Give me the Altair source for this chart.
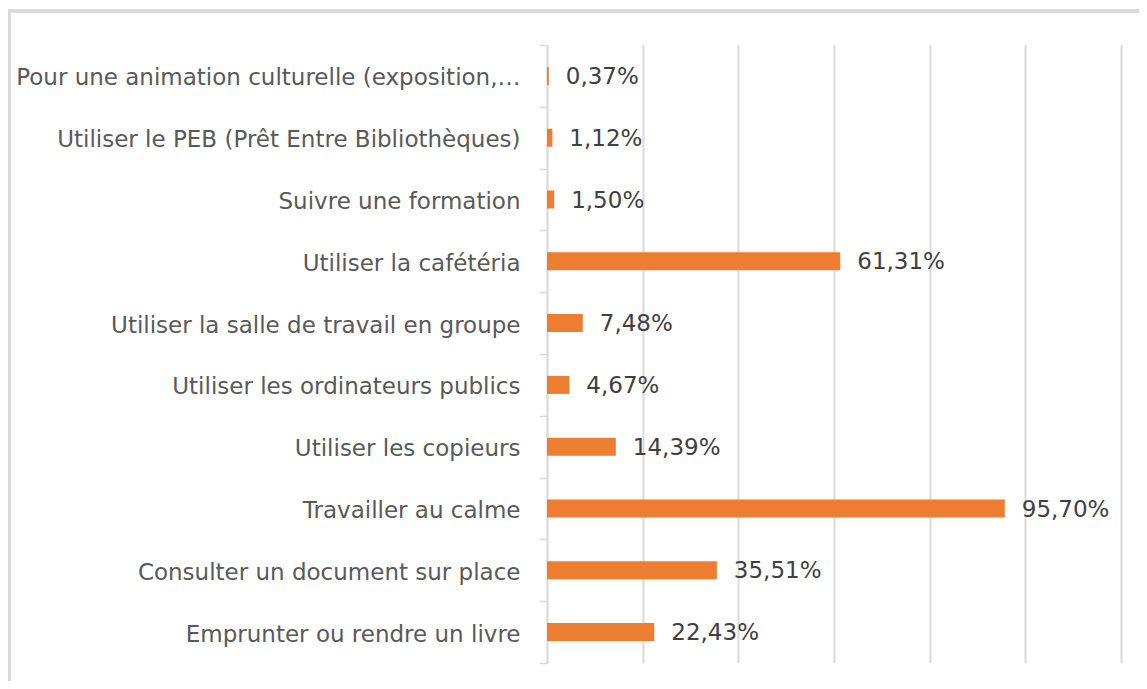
import altair as alt
import pandas as pd

categories = [
    "Pour une animation culturelle (exposition,…",
    "Utiliser le PEB (Prêt Entre Bibliothèques)",
    "Suivre une formation",
    "Utiliser la cafétéria",
    "Utiliser la salle de travail en groupe",
    "Utiliser les ordinateurs publics",
    "Utiliser les copieurs",
    "Travailler au calme",
    "Consulter un document sur place",
    "Emprunter ou rendre un livre",
]
values = [0.37, 1.12, 1.50, 61.31, 7.48, 4.67, 14.39, 95.70, 35.51, 22.43]
value_labels = ["0,37%", "1,12%", "1,50%", "61,31%", "7,48%", "4,67%",
                "14,39%", "95,70%", "35,51%", "22,43%"]
x_ticks = [0, 20, 40, 60, 80, 100, 120]

df = pd.DataFrame({"cat": categories, "val": values, "lab": value_labels})

FONT = "DejaVu Sans"
FS = 23
W, H = 574, 618

y_enc = alt.Y("cat:N", sort=categories, title=None,
              scale=alt.Scale(paddingInner=0, paddingOuter=0),
              axis=alt.Axis(labelFont=FONT, labelFontSize=FS, labelColor="#595959",
                            labelLimit=0, labelPadding=19, tickBand="extent",
                            tickSize=8, tickColor="#d9d9d9", tickWidth=1.5,
                            domainColor="#d9d9d9", domainWidth=1.5, grid=False,
                            labelBaseline="middle", labelOffset=2))
x_enc = alt.X("val:Q", title=None,
              scale=alt.Scale(domain=[0, 120], nice=False),
              axis=alt.Axis(values=x_ticks, labels=False, ticks=False, domain=False,
                            grid=True, gridColor="#d9d9d9", gridWidth=2))

bars = alt.Chart(df).mark_bar(size=18, color="#ED7D31").encode(x=x_enc, y=y_enc)

texts = alt.Chart(df).mark_text(align="left", baseline="middle", dx=17, dy=1,
                                font=FONT, fontSize=FS, color="#404040").encode(
    x=alt.X("val:Q"), y=alt.Y("cat:N", sort=categories), text="lab:N")

frame = alt.Chart(df).mark_rect(fill=None, stroke="#d9d9d9", strokeWidth=2.5,
                                clip=False).encode(
    x=alt.value(-538), x2=alt.value(W + 60),
    y=alt.value(-34), y2=alt.value(H + 60))

chart = alt.layer(frame, bars, texts).properties(
    width=W, height=H,
    background="white",
    autosize=alt.AutoSizeParams(type="none"),
    padding={"left": 539, "top": 37, "right": 18, "bottom": 18},
).configure_view(stroke=None)

chart.save("out.html", embed_options={"renderer": "svg", "actions": False})
